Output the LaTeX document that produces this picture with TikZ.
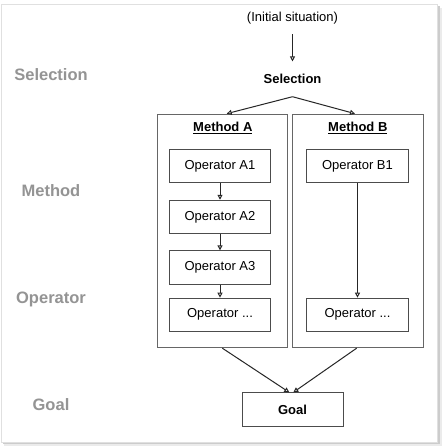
\documentclass[tikz,border=0pt]{standalone}
\usepackage{fontspec}
\setmainfont{Liberation Sans}
\usetikzlibrary{arrows.meta,positioning}

\begin{document}
\begin{tikzpicture}[x=1pt, y=1pt, line width=0.9pt,
    op/.style = {draw=black!70, minimum width=101pt, minimum height=33.4pt, inner sep=0pt, font=\fontsize{13}{15}\selectfont},
    method/.style = {draw=black!60, minimum width=130pt, minimum height=233.6pt, inner sep=0pt},
    title/.style = {font=\fontsize{13}{15}\selectfont\bfseries},
    level/.style = {text=black!42, font=\fontsize{16.5}{19}\selectfont\bfseries},
    arr/.style = {-{Triangle[open, length=5pt, width=5pt]}, line width=1pt, draw=black!85}]
    % sheet with shadow
    \useasboundingbox (0,0) rectangle (442,-448);
    \fill[black!8] (4,-8) rectangle (441.5,-445.5);
    \fill[black!20] (2.5,-6) rectangle (439.5,-443.5);
    \filldraw[fill=white, draw=black!12, line width=0.6pt] (1,-4.5) rectangle (437.5,-442);

    % levels
    \node[level] (lsel) at (51,-75) {Selection};
    \node[level] (lmet) at (51,-191) {Method};
    \node[level] (lop) at (51,-299) {Operator};
    \node[level] (lgoal) at (51,-405) {Goal};

    \node[font=\fontsize{13}{15}\selectfont] (init) at (292.5,-18) {(Initial situation)};
    \node[title] (sel) at (292.5,-79) {Selection};
    \coordinate (fork) at (292.5,-96.7);

    \node[method] (mA) at (222.3,-230.9) {};
    \node[method, minimum width=131pt] (mB) at (357.8,-230.9) {};
    \node[title] (tA) at (222.8,-127.7) {\underline{Method A}};
    \node[title] (tB) at (357.8,-127.7) {\underline{Method B}};

    \node[op] (opA1) at (220,-166) {Operator A1};
    \node[op, below=16.6pt of opA1] (opA2) {Operator A2};
    \node[op, below=16.3pt of opA2] (opA3) {Operator A3};
    \node[op, below=13pt of opA3] (opA4) {Operator ...};
    \node[op, minimum width=101.6pt] (opB1) at (357.5,-166) {Operator B1};
    \node[op, minimum width=101.6pt] (opB4) at (opB1 |- opA4) {Operator ...};

    \node[op, font=\fontsize{13}{15}\selectfont\bfseries] (goal) at (292.5,-409.5) {Goal};

    \draw[arr, shorten <=6.6pt, shorten >=9pt] (init) -- (sel);
    \draw[arr] (fork) -- ([xshift=4.4pt]mA.north);
    \draw[arr] (fork) -- ([xshift=-2.8pt]mB.north);
    \draw[arr] (opA1) -- (opA2);
    \draw[arr] (opA2) -- (opA3);
    \draw[arr] (opA3) -- (opA4);
    \draw[arr] (opB1) -- (opB4);
    \draw[arr] (mA.south) -- ([xshift=-3.2pt]goal.north);
    \draw[arr] ([xshift=-1.1pt]mB.south) -- ([xshift=0.8pt]goal.north);
\end{tikzpicture}
\end{document}
